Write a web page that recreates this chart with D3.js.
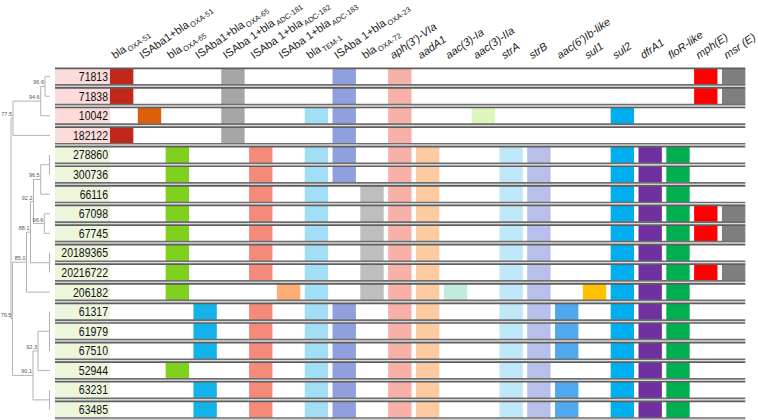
<!DOCTYPE html>
<html>
<head>
<meta charset="utf-8">
<script src="https://cdn.jsdelivr.net/npm/d3@7"></script>
<style>
  html, body { margin: 0; padding: 0; background: #fff; }
  svg { display: block; }
</style>
</head>
<body>
<div id="chart"></div>
<script>
// ---------------- DATA ----------------
const isolates = ["71813","71838","10042","182122","278860","300736","66116","67098","67745",
  "20189365","20216722","206182","61317","61979","67510","52944","63231","63485"];
const isolateGroup = ["A","A","A","A","B","B","B","B","B","B","B","B","B","B","B","B","B","B"];

const geneMain = ["bla","ISAba1+bla","bla","ISAba1+bla","ISAba 1+bla","ISAba 1+bla","ISAba 1+bla",
  "bla","ISAba 1+bla","bla","aph(3')-VIa","aadA1","aac(3)-Ia","aac(3)-IIa","strA","strB",
  "aac(6')Ib-like","sul1","sul2","dfrA1","floR-like","mph(E)","msr (E)"];
const geneSub = ["OXA-51","OXA-51","OXA-65","OXA-65","ADC-181","ADC-182","ADC-183","TEM-1","OXA-23",
  "OXA-72","","","","","","","","","","","","",""];
const geneItalic = [false,false,false,false,false,false,false,false,false,false,
  true,true,true,true,true,true,true,true,true,true,true,true,true];
const geneColors = ["#C1281B","#DE5F0A","#7FD11E","#13B3EA","#A6A6A6","#F48A7A","#FDAE76","#A2DFF7",
  "#909FDD","#BEBEBE","#F8B1A9","#FDCBA1","#C3EBDC","#DDF6BE","#BFE9F8","#B8BFEA","#50A9EF",
  "#FFC000","#00AEEF","#7030A0","#00B050","#FF0000","#7F7F7F"];

// genes present per isolate (column indices into gene arrays)
const profiles = [
  [0,4,8,10,21,22],
  [0,4,8,10,21,22],
  [1,4,7,8,10,13,18],
  [0,4,8,10],
  [2,5,7,8,10,11,14,15,18,19,20],
  [2,5,7,8,10,11,14,15,18,19,20],
  [2,5,7,9,10,11,14,15,18,19,20],
  [2,5,7,9,10,11,14,15,18,19,20,21,22],
  [2,5,7,9,10,11,14,15,18,19,20,21,22],
  [2,5,7,9,10,11,14,15,18,19,20],
  [2,5,7,9,10,11,14,15,18,19,20,21,22],
  [2,6,7,9,10,11,12,14,15,17,18,19,20],
  [3,5,7,8,10,11,14,15,16,18,19,20],
  [3,5,7,8,10,11,14,15,16,18,19,20],
  [3,5,7,8,10,11,14,15,16,18,19,20],
  [2,5,7,8,10,11,14,15,18,19,20],
  [3,5,7,8,10,11,14,15,16,18,19,20],
  [3,5,7,8,10,11,14,15,16,18,19,20]
];

// dendrogram: node depth (tree units, leaves end at 50) and support values
const tree = {d: 11, children: [
  {d: 13, label: "77.5", children: [
    {d: 40.7, label: "94.6", children: [
      {d: 45, label: "96.6", children: [{leaf: "71813"}, {leaf: "71838"}]},
      {leaf: "10042"}]},
    {leaf: "182122"}]},
  {d: 12.4, label: "79.5", children: [
    {d: 26.5, label: "85.0", children: [
      {d: 30.5, label: "88.1", children: [
        {d: 33.5, label: "92.2", children: [
          {d: 40.7, label: "96.5", children: [{group: ["278860","300736"]}, {leaf: "66116"}]},
          {d: 44.3, label: "96.6", children: [{leaf: "67098"}, {leaf: "67745"}]}]},
        {group: ["20189365","20216722"]}]},
      {leaf: "206182"}]},
    {d: 33, label: "90.1", children: [
      {d: 38, label: "92.3", children: [{group: ["61317","61979","67510"]}, {leaf: "52944"}]},
      {group: ["63231","63485"]}]}]}]};
const leafDepth = 50;

// ---------------- LAYOUT ----------------
const W = 758, H = 420;
const svg = d3.select("#chart").append("svg").attr("width", W).attr("height", H);

const gridLeft = 110, gridRight = 745.3, gridTop = 68.3, gridBottom = 418;
const labelLeft = 55;

const x = d3.scaleBand().domain(d3.range(geneMain.length)).range([gridLeft, gridRight])
  .paddingInner(0.16).paddingOuter(0);
const y = d3.scaleBand().domain(isolates).range([gridTop, gridBottom])
  .paddingInner(0.15).paddingOuter(0);
const treeX = d3.scaleLinear().domain([0, leafDepth]).range([0, 50]);

const groupFill = {A: "#FCDCDA", B: "#EBF6DD"};

// ---- rows ----
const rowG = svg.append("g").selectAll("g").data(isolates).join("g");
rowG.append("rect")
  .attr("x", labelLeft).attr("y", d => y(d))
  .attr("width", gridLeft - labelLeft).attr("height", y.bandwidth())
  .attr("fill", (d, i) => groupFill[isolateGroup[i]]);

rowG.each(function(d, i) {
  d3.select(this).selectAll("rect.cell").data(profiles[i]).join("rect")
    .attr("class", "cell")
    .attr("x", c => x(c)).attr("y", y(d))
    .attr("width", x.bandwidth()).attr("height", y.bandwidth())
    .attr("fill", c => geneColors[c]);
});

rowG.append("line")
  .attr("x1", labelLeft).attr("x2", gridRight)
  .attr("y1", d => y(d)).attr("y2", d => y(d))
  .attr("stroke", "#5e5e5e").attr("stroke-width", 1.7);
rowG.append("line")
  .attr("x1", labelLeft).attr("x2", gridRight)
  .attr("y1", d => y(d) + y.bandwidth()).attr("y2", d => y(d) + y.bandwidth())
  .attr("stroke", "#6e6e6e").attr("stroke-width", 1.7);
rowG.append("line")
  .attr("x1", labelLeft).attr("x2", gridRight)
  .attr("y1", d => y(d) + y.bandwidth() + 1.6).attr("y2", d => y(d) + y.bandwidth() + 1.6)
  .attr("stroke", "#d0d0d0").attr("stroke-width", 1);

rowG.append("text")
  .attr("transform", d => `translate(${gridLeft - 2},${y(d) + y.bandwidth() / 2 + 4.4}) scale(0.82,1)`)
  .attr("text-anchor", "end")
  .attr("font-family", "'Liberation Sans', Arial, sans-serif")
  .attr("font-size", 12.8)
  .attr("fill", "#111")
  .text(d => d);

// ---- header labels: rotated about their start point ----
const hx = i => x(i) + 5, hy = gridTop - 9;
const hdr = svg.append("g").selectAll("text").data(d3.range(geneMain.length)).join("text")
  .attr("x", hx)
  .attr("y", hy)
  .attr("transform", i => "rotate(-35," + hx(i) + "," + hy + ")")
  .attr("font-family", "'Liberation Sans', Arial, sans-serif")
  .attr("font-size", 11)
  .attr("fill", "#222")
  .attr("font-style", i => geneItalic[i] ? "italic" : "normal");
hdr.append("tspan").text(i => geneMain[i]);
hdr.filter(i => geneSub[i] !== "")
  .append("tspan")
  .attr("dx", 1.5).attr("dy", 2.5)
  .attr("font-size", 7.5)
  .text(i => geneSub[i]);

// ---- dendrogram ----
const tg = svg.append("g").attr("stroke", "#b3b3b3").attr("stroke-width", 1).attr("fill", "none");
const lg = svg.append("g");
const yc = name => y(name) + y.bandwidth() / 2;

function nodeX(n) { return n.d !== undefined ? treeX(n.d) : treeX(leafDepth); }

function draw(n) {
  if (n.leaf) return yc(n.leaf);
  if (n.group) {
    const ys = n.group.map(yc);
    tg.append("line").attr("x1", treeX(leafDepth) - 0.5).attr("x2", treeX(leafDepth) - 0.5)
      .attr("y1", d3.min(ys)).attr("y2", d3.max(ys));
    return (d3.min(ys) + d3.max(ys)) / 2;
  }
  const nx = nodeX(n);
  const ys = n.children.map(c => {
    const cy = draw(c);
    tg.append("line").attr("x1", nx).attr("x2", nodeX(c)).attr("y1", cy).attr("y2", cy);
    return cy;
  });
  const y0 = d3.min(ys), y1 = d3.max(ys);
  tg.append("line").attr("x1", nx).attr("x2", nx).attr("y1", y0).attr("y2", y1);
  const my = (y0 + y1) / 2;
  if (n.label) {
    lg.append("text").attr("x", nx - 1).attr("y", my - 2)
      .attr("text-anchor", "end")
      .attr("font-family", "'Liberation Sans', Arial, sans-serif")
      .attr("font-size", 5.5).attr("fill", "#555")
      .text(n.label);
  }
  return my;
}
draw(tree);
</script>
</body>
</html>
